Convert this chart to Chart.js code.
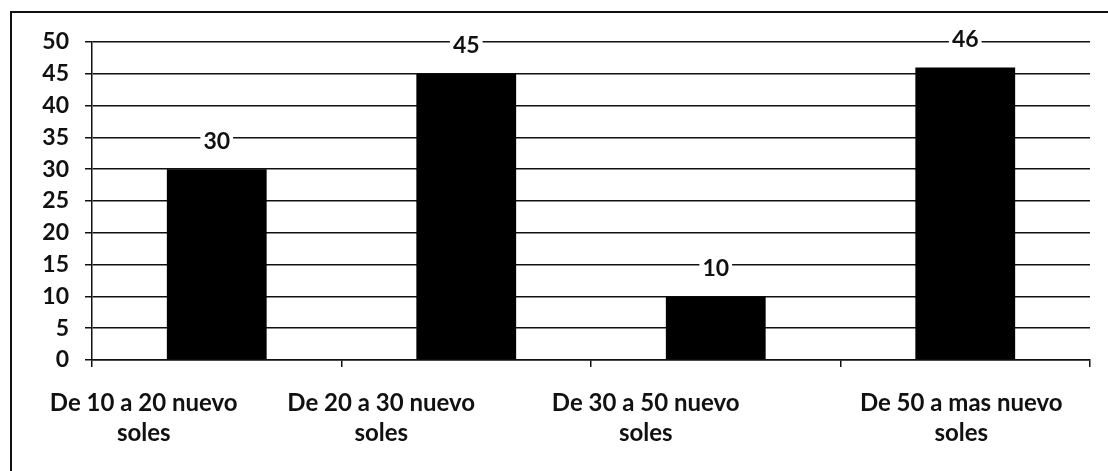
<!DOCTYPE html>
<html lang="es">
<head>
  <meta charset="UTF-8">
  <title>Rango de gasto</title>
  <script src="https://cdn.jsdelivr.net/npm/chart.js"></script>
  <style>
    html, body { margin: 0; padding: 0; background: #fff; }
    #wrap { width: 1108px; height: 471px; }
  </style>
</head>
<body>
  <div id="wrap"><canvas id="rangoChart" width="1108" height="471"></canvas></div>

  <script>
    // categorias y valores
    const categorias = [
      ["De 10 a 20 nuevo", "soles"],
      ["De 20 a 30 nuevo", "soles"],
      ["De 30 a 50 nuevo", "soles"],
      ["De 50 a mas nuevo", "soles"]
    ];
    const valores = [30, 45, 10, 46];
    const yMax = 50;
    const yPaso = 5;

    // en el original las etiquetas del eje x no quedan centradas bajo las barras
    const desplazamientoEtiqueta = [-73, -85, -70, -4];

    const fuente = "Lato, 'Open Sans', sans-serif";

    // marco del grafico (solo arriba e izquierda visibles)
    const marco = {
      id: "marco",
      beforeDraw(chart) {
        const ctx = chart.ctx;
        ctx.save();
        ctx.fillStyle = "#fff";
        ctx.fillRect(0, 0, chart.width, chart.height);
        ctx.strokeStyle = "#111";
        ctx.lineWidth = 2;
        ctx.beginPath();
        ctx.moveTo(11, chart.height);
        ctx.lineTo(11, 12);
        ctx.lineTo(chart.width, 12);
        ctx.stroke();
        ctx.restore();
      }
    };

    // etiquetas de valor encima de cada barra, con fondo blanco
    const etiquetas = {
      id: "etiquetas",
      afterDatasetsDraw(chart) {
        const ctx = chart.ctx;
        const meta = chart.getDatasetMeta(0);
        ctx.save();
        ctx.font = "bold 23px " + fuente;
        ctx.textAlign = "center";
        ctx.textBaseline = "middle";
        meta.data.forEach((bar, i) => {
          const txt = String(valores[i]);
          const y = bar.y - 28;
          const w = ctx.measureText(txt).width + 6;
          ctx.fillStyle = "#fff";
          ctx.fillRect(bar.x - w / 2, y - 10, w, 20);
          ctx.fillStyle = "#111";
          ctx.fillText(txt, bar.x, y);
        });
        ctx.restore();
      }
    };

    // etiquetas del eje x (dos lineas) dibujadas a mano por el desplazamiento
    const etiquetasX = {
      id: "etiquetasX",
      afterDraw(chart) {
        const ctx = chart.ctx;
        const xs = chart.scales.x;
        ctx.save();
        ctx.font = "bold 24px " + fuente;
        ctx.textAlign = "center";
        ctx.textBaseline = "middle";
        ctx.fillStyle = "#111";
        categorias.forEach((lineas, i) => {
          const x = xs.getPixelForValue(i) + desplazamientoEtiqueta[i];
          lineas.forEach((t, j) => {
            ctx.fillText(t, x, chart.chartArea.bottom + 43 + j * 30);
          });
        });
        ctx.restore();
      }
    };

    const ctx = document.getElementById("rangoChart").getContext("2d");
    new Chart(ctx, {
      type: "bar",
      data: {
        labels: categorias,
        datasets: [{
          data: valores,
          backgroundColor: "#000",
          borderWidth: 0,
          categoryPercentage: 0.4,
          barPercentage: 1
        }]
      },
      options: {
        responsive: false,
        animation: false,
        layout: { padding: { left: 0, top: 42, right: 18, bottom: 0 } },
        plugins: {
          legend: { display: false },
          tooltip: { enabled: false }
        },
        scales: {
          x: {
            afterFit(scale) { scale.height = 111; },
            grid: {
              offset: true,
              drawOnChartArea: false,
              drawTicks: true,
              tickLength: 7,
              color: "#111",
              lineWidth: 1.5
            },
            border: { color: "#111", width: 1.5 },
            ticks: { display: false }
          },
          y: {
            min: 0,
            max: yMax,
            afterFit(scale) { scale.width = 92; },
            grid: {
              color: "#111",
              lineWidth: 1.5,
              tickLength: 7
            },
            border: { color: "#111", width: 1.5 },
            ticks: {
              stepSize: yPaso,
              color: "#111",
              padding: 16,
              font: { family: fuente, size: 23, weight: "bold" }
            }
          }
        }
      },
      plugins: [marco, etiquetas, etiquetasX]
    });
  </script>
</body>
</html>
